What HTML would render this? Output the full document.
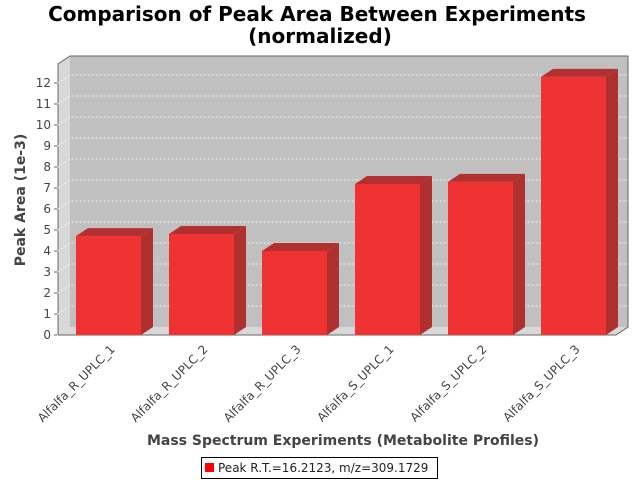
<!DOCTYPE html>
<html><head><meta charset="utf-8"><style>
body{margin:0;background:#fff;}
svg{display:block;font-family:"DejaVu Sans","Liberation Sans",sans-serif;}
</style></head><body>
<svg id="chart" width="640" height="480">
<text x="317" y="21" text-anchor="middle" font-size="20" font-weight="bold" fill="#000">Comparison of Peak Area Between Experiments</text>
<text x="320" y="43" text-anchor="middle" font-size="20" font-weight="bold" fill="#000">(normalized)</text>
<polygon points="58,64 70,56 70,327 58,335" fill="#d8d8d8"/>
<polygon points="58,335 70,327 628,327 616,335" fill="#d8d8d8"/>
<rect x="70" y="56" width="558" height="271" fill="#c0c0c0"/>
<polyline points="58,335 58,64 70,56 628,56 628,327 616,335 58,335" fill="none" stroke="#666" stroke-width="1"/>
<g id="grid"></g><g id="yaxis"></g><g id="bars"></g><g id="xlabels"></g>
<text transform="translate(25,200) rotate(-90)" text-anchor="middle" font-size="14" font-weight="bold" fill="#444">Peak Area (1e-3)</text>
<text x="343" y="445" text-anchor="middle" font-size="14" font-weight="bold" fill="#444">Mass Spectrum Experiments (Metabolite Profiles)</text>
<g>
<rect x="201.5" y="457.5" width="236" height="21" fill="#fff" stroke="#000"/>
<rect x="205" y="463" width="9" height="9" fill="#ff0000"/>
<text x="218" y="472" font-size="12" fill="#222">Peak R.T.=16.2123, m/z=309.1729</text>
</g>
</svg>
<script>
const categories=["Alfalfa_R_UPLC_1","Alfalfa_R_UPLC_2","Alfalfa_R_UPLC_3","Alfalfa_S_UPLC_1","Alfalfa_S_UPLC_2","Alfalfa_S_UPLC_3"];
const values=[4.71,4.81,4.0,7.19,7.29,12.29];
const yTicks=[0,1,2,3,4,5,6,7,8,9,10,11,12];
const NS="http://www.w3.org/2000/svg";
const X0=58,X1=616,Y0=335,PX=21,DX=12,DY=8;
function y(v){return Y0-v*PX;}
const slot=(X1-X0)/categories.length, bw=65;
function xb(i){return X0+slot*i+(slot-bw)/2+4;}
function mk(t,a,p){const e=document.createElementNS(NS,t);for(const k in a)e.setAttribute(k,a[k]);p.appendChild(e);return e;}
const grid=document.getElementById('grid'),ya=document.getElementById('yaxis');
yTicks.forEach(t=>{
  if(t>0){const g=mk('polyline',{points:`${X0},${y(t)} ${X0+DX},${y(t)-DY} ${X1+DX},${y(t)-DY}`,fill:'none',stroke:'#fff','stroke-dasharray':'2,2','stroke-width':0.8},grid);
  
  }
  const tk=mk('line',{x1:X0-4,x2:X0-1,y1:y(t),y2:y(t),stroke:'#666'},ya);
  
  
  const tx=mk('text',{x:X0-7,y:y(t)+4,'text-anchor':'end','font-size':12,fill:'#444'},ya);
  
  
  tx.textContent=t;
});
const bars=document.getElementById('bars'),xl=document.getElementById('xlabels');
values.forEach((v,i)=>{
  const x=xb(i),top=y(v);
  const g=mk('g',{},bars);
  
  
  mk('polygon',{points:`${x},${top} ${x+DX},${top-DY} ${x+bw+DX},${top-DY} ${x+bw},${top}`,fill:'#b33030'},g);
  mk('polygon',{points:`${x+bw},${top} ${x+bw+DX},${top-DY} ${x+bw+DX},${Y0-DY} ${x+bw},${Y0}`,fill:'#b03030'},g);
  mk('rect',{x:x,y:top,width:bw,height:Y0-top,fill:'#ef3333'},g);
  const cx=x+bw/2+7;
  const t=mk('text',{x:cx,y:350,'text-anchor':'end','font-size':12,fill:'#444',transform:`rotate(-45 ${cx} 350)`},xl);
  
  
  t.textContent=categories[i];
});
</script>
</body></html>
